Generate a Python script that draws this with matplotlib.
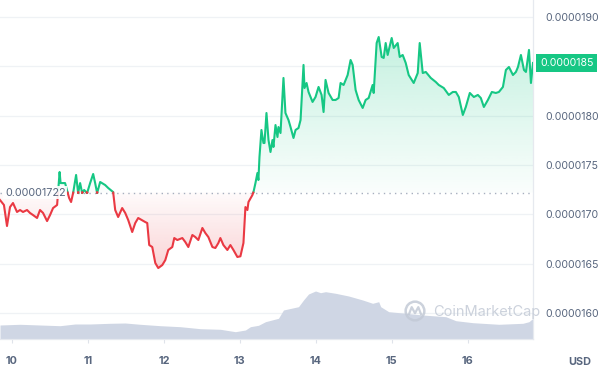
import numpy as np
import matplotlib
matplotlib.use("Agg")
import matplotlib.pyplot as plt
from matplotlib.transforms import blended_transform_factory
from matplotlib.colors import to_rgb
from matplotlib.patches import Circle

# price in units of 1e-7 USD, time as fractional day of month
days = [9.842, 9.894, 9.934, 9.974, 10.013, 10.066, 10.106, 10.145, 10.198, 10.237,
        10.277, 10.330, 10.369, 10.409, 10.462, 10.501, 10.541, 10.594, 10.627, 10.640,
        10.699, 10.752, 10.778, 10.805, 10.844, 10.871, 10.897, 10.924, 10.950, 10.989,
        11.029, 11.069, 11.095, 11.121, 11.161, 11.227, 11.267, 11.332, 11.359, 11.398,
        11.451, 11.491, 11.530, 11.583, 11.623, 11.662, 11.755, 11.781, 11.807, 11.847,
        11.887, 11.926, 11.979, 12.019, 12.058, 12.111, 12.137, 12.177, 12.243, 12.282,
        12.322, 12.375, 12.414, 12.454, 12.507, 12.546, 12.586, 12.639, 12.678, 12.718,
        12.744, 12.784, 12.836, 12.876, 12.916, 12.968, 13.008, 13.048, 13.074, 13.100,
        13.114, 13.166, 13.180, 13.206, 13.232, 13.245, 13.259, 13.285, 13.311, 13.325,
        13.351, 13.378, 13.404, 13.430, 13.443, 13.470, 13.496, 13.509, 13.536, 13.575,
        13.601, 13.641, 13.668, 13.707, 13.734, 13.773, 13.800, 13.839, 13.852, 13.879,
        13.905, 13.958, 13.997, 14.037, 14.077, 14.103, 14.129, 14.169, 14.222, 14.261,
        14.301, 14.327, 14.367, 14.420, 14.459, 14.486, 14.525, 14.565, 14.618, 14.657,
        14.697, 14.749, 14.763, 14.802, 14.829, 14.868, 14.895, 14.921, 14.947, 15.000,
        15.027, 15.079, 15.106, 15.145, 15.185, 15.224, 15.290, 15.343, 15.369, 15.409,
        15.449, 15.515, 15.581, 15.620, 15.686, 15.752, 15.805, 15.845, 15.884, 15.937,
        15.976, 16.029, 16.082, 16.135, 16.174, 16.214, 16.267, 16.319, 16.372, 16.412,
        16.465, 16.504, 16.544, 16.597, 16.636, 16.663, 16.702, 16.742, 16.768, 16.808,
        16.834, 16.861]
price = [171.45, 170.95, 168.82, 170.74, 171.15, 170.24, 170.44, 170.24, 170.44, 170.14,
         169.93, 169.63, 170.44, 170.14, 169.32, 169.93, 170.64, 170.95, 174.29, 173.17,
         173.17, 171.66, 171.25, 172.16, 173.99, 172.16, 173.17, 172.16, 172.47, 172.16,
         173.17, 174.09, 173.17, 172.16, 173.28, 172.97, 172.67, 172.26, 170.44, 169.73,
         170.64, 170.14, 169.43, 168.21, 169.12, 169.63, 169.22, 169.12, 166.89, 166.69,
         165.07, 164.56, 164.86, 165.37, 166.39, 166.69, 167.60, 167.40, 167.60, 167.20,
         166.69, 167.91, 167.70, 167.40, 168.62, 168.11, 167.70, 166.69, 166.59, 167.10,
         167.60, 166.89, 166.39, 166.89, 166.39, 165.68, 165.75, 167.10, 170.74, 170.44,
         171.25, 171.96, 172.26, 173.17, 174.19, 173.48, 175.81, 178.55, 177.23, 177.23,
         180.27, 177.53, 176.32, 177.53, 176.83, 179.05, 177.84, 178.85, 178.24, 183.82,
         180.27, 179.56, 178.85, 177.74, 178.55, 178.75, 179.56, 185.14, 182.80, 183.31,
         182.40, 181.39, 181.89, 182.91, 182.10, 180.37, 183.62, 182.30, 181.59, 181.59,
         181.79, 183.31, 183.11, 184.12, 185.64, 185.14, 182.60, 181.59, 180.78, 181.59,
         181.79, 183.11, 182.30, 187.36, 187.97, 185.95, 185.85, 187.36, 186.15, 187.87,
         186.86, 187.36, 185.95, 186.15, 185.34, 184.12, 183.31, 184.32, 187.36, 184.32,
         184.43, 183.82, 183.41, 183.11, 182.80, 182.10, 182.40, 182.40, 181.89, 180.07,
         180.88, 182.30, 181.89, 182.10, 181.79, 180.88, 181.59, 182.40, 182.30, 182.40,
         182.91, 184.63, 184.93, 184.12, 184.43, 184.93, 186.15, 184.63, 184.43, 186.66,
         183.31, 185.34]

# volume (relative bar height, same time scale)
vol_days = [9.842, 10.106, 10.369, 10.633, 10.831, 11.029, 11.293, 11.491, 11.689, 11.953,
            12.216, 12.480, 12.744, 12.942, 13.074, 13.140, 13.246, 13.338, 13.509, 13.575,
            13.773, 13.839, 13.905, 13.997, 14.063, 14.129, 14.261, 14.433, 14.618, 14.749,
            14.829, 14.855, 14.961, 15.185, 15.409, 15.713, 15.845, 16.069, 16.412, 16.728,
            16.808, 16.861]
volume = [14.0, 14.7, 14.0, 13.3, 15.0, 15.0, 15.7, 16.0, 14.7, 13.3,
          12.3, 10.3, 9.7, 7.3, 9.0, 12.3, 13.7, 17.3, 20.7, 29.0,
          32.3, 39.0, 45.0, 48.0, 46.3, 47.3, 45.7, 43.0, 39.0, 35.7,
          37.3, 32.3, 27.3, 25.7, 24.0, 22.3, 18.3, 16.3, 14.7, 15.7,
          17.3, 20.7]

baseline = 172.2
y_ticks = [160, 165, 170, 175, 180, 185, 190]
x_ticks = [10, 11, 12, 13, 14, 15, 16]

GREEN = "#16c784"
RED = "#ea3943"
TEXT = "#58667e"
GRID = "#eff2f5"

plt.rcParams['font.family'] = ['Inter', 'DejaVu Sans']


def split_at_baseline(x, y, base):
    xs, ys = [x[0]], [y[0]]
    for i in range(1, len(x)):
        d0, d1 = y[i - 1] - base, y[i] - base
        if d0 * d1 < 0:
            t = d0 / (d0 - d1)
            xs.append(x[i - 1] + t * (x[i] - x[i - 1]))
            ys.append(base)
        xs.append(x[i])
        ys.append(y[i])
    return np.array(xs), np.array(ys)


def gradient_fill(ax, x, y_edge, base, far, color, a_far, a_near):
    poly = ax.fill_between(x, y_edge, base, color="none", lw=0)
    clip = poly.get_paths()[0]
    r, g, b = to_rgb(color)
    n = 256
    alpha = np.linspace(a_near, a_far, n)
    if far < base:
        alpha = alpha[::-1]
    img = np.zeros((n, 1, 4))
    img[..., 0], img[..., 1], img[..., 2] = r, g, b
    img[:, 0, 3] = alpha
    lo, hi = sorted([base, far])
    im = ax.imshow(img, extent=[x[0], x[-1], lo, hi], origin="lower",
                   aspect="auto", zorder=1.5, interpolation="bilinear")
    im.set_clip_path(clip, transform=ax.transData)


fig = plt.figure(figsize=(6.02, 3.73), dpi=100)
ax = fig.add_axes([0, 34 / 373, 533 / 602, 339 / 373])

xs, ys = split_at_baseline(days, price, baseline)

# volume area at the bottom
vol_tr = blended_transform_factory(ax.transData, ax.transAxes)
ax.fill_between(vol_days, np.array(volume) / 339, 0, transform=vol_tr,
                color="#cfd6e4", lw=0, zorder=1)

gradient_fill(ax, xs, np.maximum(ys, baseline), baseline, max(price), GREEN, 0.25, 0.02)
gradient_fill(ax, xs, np.minimum(ys, baseline), baseline, min(price), RED, 0.22, 0.02)

up = np.where(ys >= baseline, ys, np.nan)
down = np.where(ys <= baseline, ys, np.nan)
ax.plot(xs, up, color=GREEN, lw=1.5, zorder=3, solid_joinstyle="round")
ax.plot(xs, down, color=RED, lw=1.5, zorder=3, solid_joinstyle="round")

ax.axhline(baseline, color="#a6afbf", lw=1, linestyle=(0, (1, 3)), zorder=2)

ax.set_xlim(9.842, 16.861)
ax.set_ylim(157.37, 191.72)

ax.set_axisbelow(True)
ax.grid(axis="y", color=GRID, lw=0.9)
ax.grid(axis="x", visible=False)

# the tick label under the current price tag is hidden in the original
tag_level = round(price[-1] / 5) * 5
ax.yaxis.tick_right()
ax.set_yticks(y_ticks)
ax.set_yticklabels(["" if v == tag_level else f"{v * 1e-7:.7f}" for v in y_ticks])
ax.tick_params(axis="y", length=0, pad=9, labelsize=7.6, labelcolor=TEXT)
ax.set_xticks(x_ticks)
ax.set_xticklabels([str(d) for d in x_ticks])
ax.tick_params(axis="x", length=3, color="#dfe3ea", pad=9, labelsize=7.8,
               labelcolor=TEXT)
for lab in ax.get_xticklabels():
    lab.set_fontweight("bold")

for side in ["top", "left"]:
    ax.spines[side].set_visible(False)
for side in ["right", "bottom"]:
    ax.spines[side].set_color("#e6e9ef")
    ax.spines[side].set_linewidth(0.9)

# baseline label
ax.text(9.842 + 5 / 75.8, baseline, f"{baseline * 1e-7:.8f}", ha="left", va="center",
        fontsize=7.8, color=TEXT, zorder=6,
        bbox=dict(boxstyle="square,pad=0.15", fc="white", ec="none", alpha=0.9))

# current price tag
tag_tr = blended_transform_factory(ax.transAxes, ax.transData)
ax.text(1 + 7 / 533, price[-1], f"{price[-1] * 1e-7:.7f}", transform=tag_tr,
        ha="left", va="center", fontsize=7.6, color="white", zorder=10,
        bbox=dict(boxstyle="square,pad=0.35", fc=GREEN, ec="none"))

# watermark
fig.text(433 / 602, 1 - 312 / 373, "CoinMarketCap", fontsize=10.5, color="#c3cad6",
         ha="left", va="center", alpha=0.85, zorder=5)
logo = fig.add_axes([404 / 602, 1 - 322 / 373, 22 / 602, 22 / 373])
logo.set_xlim(-1, 1)
logo.set_ylim(-1, 1)
logo.axis("off")
logo.patch.set_alpha(0)
logo.add_patch(Circle((0, 0), 0.85, fill=False, ec="#c3cad6", lw=1.8, alpha=0.85))
logo.plot([-0.55, -0.3, 0.0, 0.3, 0.55], [-0.3, 0.35, -0.2, 0.35, -0.3],
          color="#c3cad6", lw=1.6, alpha=0.85)

fig.text(580 / 602, 1 - 362 / 373, "USD", fontsize=7.8, fontweight="bold",
         color=TEXT, ha="center", va="center")

fig.savefig("out.png", dpi=100)
